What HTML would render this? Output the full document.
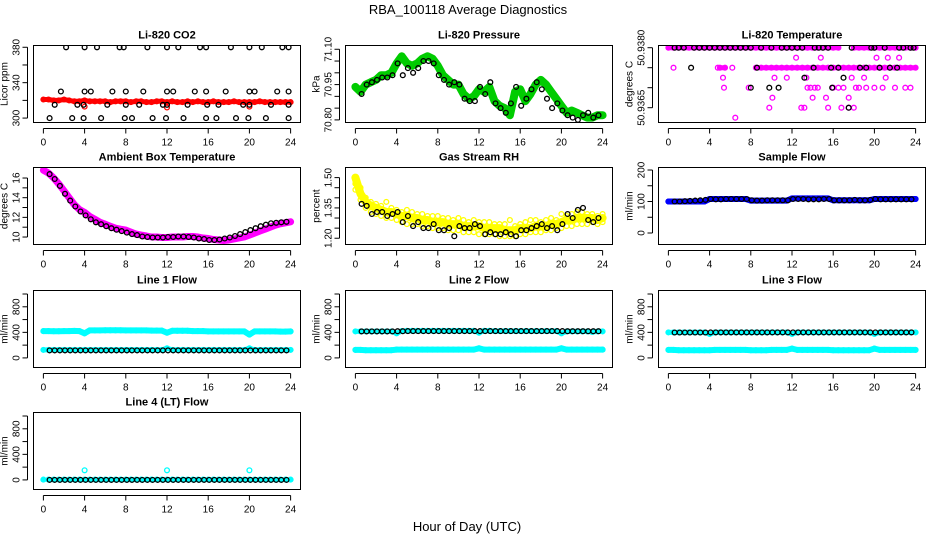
<!DOCTYPE html>
<html><head><meta charset="utf-8"><style>
html,body{margin:0;padding:0;background:#fff;}
svg text{font-family:"Liberation Sans",sans-serif;}
</style></head><body>
<svg id="chart" width="936" height="540" viewBox="0 0 936 540" xmlns="http://www.w3.org/2000/svg">
<rect width="936" height="540" fill="#fff"/>
<text x="468" y="14" text-anchor="middle" font-size="13">RBA_100118  Average Diagnostics</text>
<text x="467" y="531" text-anchor="middle" font-size="13">Hour of Day (UTC)</text>
</svg>
<script>
const hoursC=[0,0.5,1,1.5,2,2.5,3,3.5,4,4.5,5,5.5,6,6.5,7,7.5,8,8.5,9,9.5,10,10.5,11,11.5,12,12.5,13,13.5,14,14.5,15,15.5,16,16.5,17,17.5,18,18.5,19,19.5,20,20.5,21,21.5,22,22.5,23,23.5,24];
const hoursK=[0.6,1.1,1.6,2.1,2.6,3.1,3.6,4.1,4.6,5.1,5.6,6.1,6.6,7.1,7.6,8.1,8.6,9.1,9.6,10.1,10.6,11.1,11.6,12.1,12.6,13.1,13.6,14.1,14.6,15.1,15.6,16.1,16.6,17.1,17.6,18.1,18.6,19.1,19.6,20.1,20.6,21.1,21.6,22.1,22.6,23.1,23.6];
const xTicks=[0,4,8,12,16,20,24];

const co2Red=[321,321,320,320,321,320,319,319,320,319,319,319,319,318,319,319,319,318,319,319,318,318,319,319,318,319,318,318,319,318,319,318,318,319,318,318,318,319,318,318,318,318,319,318,318,318,318,318,318];
const co2KX=[2.2,4,5.2,7.4,7.8,10.1,12,13.1,15.2,15.8,18.2,20,21.2,23.2,23.8,1.7,4,4.6,6.7,8,9.7,12,12.6,14.7,15.8,17.7,20,20.5,22.7,23.8,1.1,3.3,3.9,6.2,8,9.3,11.6,12,14,15.9,17,19.4,20,22.1,23.8,0.6,2.8,3.9,5.6,7.9,8.6,10.6,11.9,13.6,15.8,16.8,18.7,19.9,21.6,23.8];
const co2KY=[380,380,380,380,380,380,380,380,380,380,380,380,380,380,380,330,330,330,330,330,330,330,330,330,330,330,330,330,330,330,315,315,315,315,315,315,315,315,315,315,315,315,315,315,315,300,300,300,300,300,300,300,300,300,300,300,300,300,300,300];
const co2OutX=[4,12,20];
const co2OutY=[313,312,313];

const pressGreen=[70.94,70.92,70.95,70.96,70.97,70.99,70.99,71.00,71.04,71.07,71.04,71.03,71.04,71.06,71.07,71.06,71.03,70.99,70.97,70.95,70.95,70.91,70.89,70.90,70.93,70.92,70.94,70.88,70.86,70.85,70.82,70.92,70.93,70.88,70.91,70.95,70.97,70.95,70.92,70.89,70.86,70.83,70.84,70.83,70.82,70.81,70.81,70.82,70.82];
const pressK=[70.91,70.95,70.96,70.97,70.98,70.98,70.99,71.04,70.99,71.02,71.00,71.02,71.05,71.05,71.04,70.99,70.97,70.95,70.96,70.95,70.89,70.88,70.88,70.94,70.91,70.96,70.87,70.85,70.83,70.87,70.94,70.86,70.89,70.93,70.96,70.93,70.89,70.85,70.87,70.84,70.82,70.81,70.80,70.82,70.83,70.81,70.82];

const tempTop=[50.938,50.938,50.938,50.938,50.938,50.938,50.938,50.938,50.938,50.938,50.938,50.938,50.938,50.938,50.938,50.938,50.938,50.938,50.938,50.938,50.938,50.938,50.938,50.938,50.938,50.938,50.938,50.938,50.938,50.938,50.938,50.938,50.938,50.938,null,null,50.938,50.938,50.938,50.938,50.938,50.938,50.938,50.938,50.938,50.938,50.938,50.938,50.938];
const tempMid=[null,50.9375,null,null,null,null,null,null,null,null,50.9375,50.9375,null,null,null,null,null,50.9375,50.9375,50.9375,50.9375,50.9375,50.9375,50.9375,50.9375,50.9375,50.9375,50.9375,50.9375,50.9375,50.9375,50.9375,50.9375,50.9375,50.9375,50.9375,50.9375,50.9375,50.9375,50.9375,50.9375,50.9375,50.9375,50.9375,50.9375,50.9375,50.9375,50.9375,50.9375];
const tempMX=[5.3,5.4,6.5,9.8,10.1,10.3,11.5,12.4,12.9,13.2,13.4,13.5,13.8,14,14.2,14.5,14.8,15.3,15.5,16,16.5,16.8,17,17.5,17.5,17.8,18,18.2,18.5,19,19.2,20,20.2,20.8,21.1,21.3,22,22.4,23,23.5,7.8,4.8,6.2];
const tempMY=[50.93725,50.937,50.93625,50.9365,50.93675,50.93725,50.93725,50.93775,50.9365,50.9365,50.93725,50.937,50.937,50.93675,50.937,50.937,50.93775,50.93675,50.9365,50.937,50.937,50.9365,50.937,50.93675,50.9365,50.93725,50.9365,50.937,50.937,50.93725,50.937,50.937,50.93775,50.937,50.93725,50.93775,50.937,50.93775,50.937,50.937,50.937,50.9375,50.9375];
const tempKX=[0.6,1,1.5,2.5,3,3.5,4,4.5,5,5.5,6,6.5,7,7.5,8,9,10,11,11.5,12,12.5,13,14.2,14.6,15,15.5,17.8,19.7,20,21,22.4,22.8,23.5,23.8,2.2,8.6,14.1,15.8,16.5,18.6,19.2,20.5,21.5,22.2,13.2,17,8,9.8,10.7,15.9,17.5];
const tempKY=[50.938,50.938,50.938,50.938,50.938,50.938,50.938,50.938,50.938,50.938,50.938,50.938,50.938,50.938,50.938,50.938,50.938,50.938,50.938,50.938,50.938,50.938,50.938,50.938,50.938,50.938,50.938,50.938,50.938,50.938,50.938,50.938,50.938,50.938,50.9375,50.9375,50.9375,50.9375,50.9375,50.9375,50.9375,50.9375,50.9375,50.9375,50.93725,50.93725,50.937,50.937,50.937,50.937,50.9365];

const ambMag=[16.8,16.5,16.0,15.4,14.7,14.0,13.3,12.8,12.5,12.1,11.8,11.5,11.3,11.1,10.9,10.8,10.7,10.5,10.3,10.2,10.1,10.0,10.0,9.95,9.95,10.0,10.0,10.0,10.05,10.05,10.0,9.9,9.85,9.75,9.7,9.65,9.7,9.8,9.9,10.0,10.2,10.4,10.6,10.8,11.0,11.2,11.35,11.45,11.55];
const ambK=[16.4,15.9,15.2,14.4,13.7,13.1,12.6,12.2,11.8,11.5,11.3,11.1,10.9,10.75,10.6,10.45,10.3,10.2,10.05,10.0,9.95,9.95,9.95,10.0,10.0,10.05,10.05,10.0,9.95,9.85,9.8,9.7,9.7,9.75,9.85,9.95,10.1,10.3,10.5,10.7,10.9,11.1,11.25,11.4,11.45,11.5,11.55];

const rhMid=[1.50,1.42,1.38,1.36,1.35,1.34,1.33,1.33,1.32,1.31,1.31,1.30,1.30,1.29,1.29,1.28,1.28,1.28,1.27,1.27,1.27,1.26,1.26,1.26,1.26,1.25,1.25,1.25,1.25,1.24,1.24,1.24,1.25,1.25,1.25,1.26,1.26,1.26,1.27,1.27,1.28,1.29,1.29,1.30,1.30,1.30,1.30,1.29,1.30];
const rhUp=[1.47,1.45,1.40,1.38,1.37,1.36,1.38,1.35,1.34,1.33,1.34,1.33,1.32,1.32,1.31,1.31,1.31,1.30,1.30,1.29,1.30,1.29,1.28,1.29,1.28,1.28,1.28,1.27,1.27,1.27,1.29,1.26,1.27,1.28,1.29,1.29,1.28,1.29,1.30,1.29,1.32,1.31,1.32,1.33,1.33,1.32,1.32,1.31,1.32];
const rhLow=[1.44,1.39,1.35,1.33,1.32,1.31,1.30,1.30,1.29,1.28,1.27,1.27,1.27,1.26,1.26,1.25,1.25,1.25,1.24,1.24,1.24,1.23,1.23,1.23,1.22,1.22,1.22,1.22,1.21,1.21,1.21,1.21,1.22,1.22,1.23,1.23,1.23,1.24,1.24,1.25,1.25,1.26,1.26,1.27,1.27,1.27,1.28,1.27,1.28];
const rhK=[1.37,1.36,1.32,1.33,1.33,1.31,1.32,1.33,1.28,1.31,1.26,1.28,1.25,1.25,1.27,1.24,1.24,1.25,1.21,1.26,1.25,1.25,1.27,1.26,1.22,1.23,1.22,1.22,1.23,1.22,1.21,1.24,1.24,1.25,1.26,1.27,1.25,1.26,1.24,1.27,1.32,1.30,1.34,1.35,1.29,1.28,1.30];

const sampleBlue=[100,100,100,100,100,100,100,100,108,108,108,108,108,108,108,108,103,103,103,103,103,103,103,103,110,110,110,110,110,110,110,110,104,104,104,104,104,104,104,104,108,108,108,108,108,108,108,108,108];
const sampleK=[100,100,101,102,103,104,105,108,107,107,108,108,108,108,108,104,103,103,104,104,104,104,104,108,108,108,107,107,107,108,108,104,104,104,104,105,104,104,105,108,107,107,107,107,107,107,107];

const line1CyanUp=[420,420,418,418,420,420,422,420,385,430,430,430,432,432,432,432,430,430,430,430,430,428,428,428,395,425,425,425,425,420,420,420,415,415,415,415,415,415,415,415,365,415,415,415,415,415,412,412,415];
const line1CyanLow=[125,125,125,125,125,125,125,125,125,125,125,125,125,125,125,125,125,125,125,125,125,125,125,125,150,125,125,125,125,125,125,125,125,125,125,125,125,125,125,125,150,125,125,125,125,125,125,125,125];
const line1K=[118,118,118,118,118,118,118,118,118,118,118,118,118,118,118,118,118,118,118,118,118,118,118,118,118,118,118,118,118,118,118,118,118,118,118,118,118,118,118,118,118,118,118,118,118,118,118];
const line2CyanUp=[415,415,415,415,415,415,415,415,385,420,425,425,425,425,425,425,425,425,425,425,425,425,425,425,395,425,425,420,420,420,420,420,420,420,420,420,420,420,420,420,385,415,415,415,415,415,405,415,415];
const line2CyanLow=[125,125,120,120,120,120,120,120,130,130,130,130,130,130,130,130,130,130,130,130,130,130,130,130,150,130,130,130,130,130,130,130,130,130,130,130,130,130,130,130,150,130,130,130,130,130,130,130,130];
const line2K=[415,415,415,415,415,415,415,418,418,420,420,420,420,420,420,420,420,420,420,420,420,420,420,420,420,420,420,420,420,420,420,420,420,420,420,420,420,420,420,420,418,418,418,418,418,418,418];
const line3CyanUp=[400,400,400,400,400,400,400,400,375,400,400,400,400,400,400,400,400,400,400,400,400,400,400,400,375,400,400,400,400,400,400,400,400,400,400,400,400,400,400,400,375,400,400,400,400,400,400,400,400];
const line3CyanLow=[125,125,120,120,120,120,120,120,120,125,125,125,125,125,125,125,120,120,120,120,125,125,125,125,145,125,125,125,125,125,125,125,120,120,120,120,120,120,120,120,145,125,125,125,125,125,125,125,125];
const line3K=[398,398,398,398,398,398,398,400,400,400,400,400,400,400,400,400,400,400,400,400,400,400,400,400,400,400,400,400,400,400,400,400,400,400,400,400,400,400,400,400,400,400,400,400,400,400,400];
const line4Cyan=[5,5,5,5,5,5,5,5,5,5,5,5,5,5,5,5,5,5,5,5,5,5,5,5,5,5,5,5,5,5,5,5,5,5,5,5,5,5,5,5,5,5,5,5,5,5,5,5,5];
const line4OutX=[4,12,20];
const line4OutY=[150,150,150];
const line4K=[0,0,0,0,0,0,0,0,0,0,0,0,0,0,0,0,0,0,0,0,0,0,0,0,0,0,0,0,0,0,0,0,0,0,0,0,0,0,0,0,0,0,0,0,0,0,0];

const co2Ticks=[300,320,340,360,380], co2Labels=["300","","340","","380"];
const pressTicks=[70.80,70.85,70.90,70.95,71.00,71.05,71.10], pressLabels=["70.80","","","70.95","","","71.10"];
const tempTicks=[50.9380,50.9375,50.9370,50.9365], tempLabels=["50.9380","","","50.9365"];
const ambTicks=[10,11,12,13,14,15,16], ambLabels=["10","","12","","14","","16"];
const rhTicks=[1.20,1.25,1.30,1.35,1.40,1.45,1.50], rhLabels=["1.20","","","1.35","","","1.50"];
const sampleTicks=[0,50,100,150,200], sampleLabels=["0","","100","","200"];
const flowTicks=[0,200,400,600,800,1000], flowLabels=["0","","400","","800",""];

const NS="http://www.w3.org/2000/svg";
const svg=document.getElementById('chart');
function mk(tag,attrs,parent){const e=document.createElementNS(NS,tag);for(const k in attrs)e.setAttribute(k,attrs[k]);(parent||svg).appendChild(e);return e;}

const colX=[33.5,345.5,658.5], rowY=[45.5,167.5,290.5,412.5], BW=267, BH=77;
const XLIM=[-0.96,24.96];

function panel(name,title,col,row,ylim,ticks,labels,ylab,series){
  const g=mk('g',{});
  
  
  const x0=colX[col], y0=rowY[row];
  const sx=v=>x0+(v-XLIM[0])/(XLIM[1]-XLIM[0])*BW;
  const sy=v=>y0+BH-(v-ylim[0])/(ylim[1]-ylim[0])*BH;
  const clipId='clip-'+name;
  const cp=mk('clipPath',{id:clipId},g);
  mk('rect',{x:x0,y:y0,width:BW,height:BH},cp);
  const plot=mk('g',{'clip-path':'url(#'+clipId+')'},g);
  
  
  series.forEach(s=>{
    const sg=mk('g',{},plot);
    
    
    if(s.band){
      let d='',pen=false;
      for(let i=0;i<s.x.length&&i<s.y.length;i++){
        if(s.y[i]===null){pen=false;continue;}
        d+=(pen?'L':'M')+sx(s.x[i]).toFixed(1)+' '+sy(s.y[i]).toFixed(1);pen=true;
      }
      const p=mk('path',{d:d,fill:'none',stroke:s.color,'stroke-width':s.band,'stroke-linejoin':'round','stroke-linecap':'round'},sg);
      
      
    }
    for(let i=0;i<s.x.length&&i<s.y.length;i++){
      if(s.y[i]===null)continue;
      const c=mk('circle',{cx:sx(s.x[i]).toFixed(1),cy:sy(s.y[i]).toFixed(1),r:s.r||2.4,fill:'none',stroke:s.color,'stroke-width':s.sw||1.3},sg);
      
      
    }
  });
  const box=mk('rect',{x:x0,y:y0,width:BW,height:BH,fill:'none',stroke:'#000','stroke-width':1},g);
  
  
  const t=mk('text',{x:x0+BW/2,y:y0-7,'text-anchor':'middle','font-size':'11','font-weight':'bold'},g);
  t.textContent=title;
  
  
  const xa=mk('g',{},g);
  
  
  const by=y0+BH;
  mk('line',{x1:sx(0),x2:sx(24),y1:by+6,y2:by+6,stroke:'#000'},xa);
  xTicks.forEach(v=>{
    mk('line',{x1:sx(v),x2:sx(v),y1:by+6,y2:by+11,stroke:'#000'},xa);
    const tl=mk('text',{x:sx(v),y:by+23,'text-anchor':'middle','font-size':'10'},xa);
    tl.textContent=String(v);
    
    
  });
  const ya=mk('g',{},g);
  
  
  const ax=x0-6;
  mk('line',{x1:ax,x2:ax,y1:sy(ticks[0]),y2:sy(ticks[ticks.length-1]),stroke:'#000'},ya);
  ticks.forEach((v,i)=>{
    mk('line',{x1:ax-5,x2:ax,y1:sy(v),y2:sy(v),stroke:'#000'},ya);
    if(labels[i]){
      const tl=mk('text',{x:ax-8,y:sy(v),'text-anchor':'middle','font-size':'10',transform:'rotate(-90 '+(ax-8)+' '+sy(v)+')'},ya);
      tl.textContent=labels[i];
      
      
    }
  });
  const yl=mk('text',{x:x0-26,y:y0+BH/2,'text-anchor':'middle','font-size':'10',transform:'rotate(-90 '+(x0-26)+' '+(y0+BH/2)+')'},g);
  yl.textContent=ylab;
  
  
}
const K='#000', CY='#00ffff';
panel('co2','Li-820 CO2',0,0,[295,382],co2Ticks,co2Labels,'Licor ppm',[
  {name:'red-series',x:hoursC,y:co2Red,color:'#ff0000',band:5},
  {name:'red-outliers',x:co2OutX,y:co2OutY,color:'#ff0000'},
  {name:'black-series',x:co2KX,y:co2KY,color:K}]);
panel('pressure','Li-820 Pressure',1,0,[70.789,71.116],pressTicks,pressLabels,'kPa',[
  {name:'green-series',x:hoursC,y:pressGreen,color:'#00cc00',band:8},
  {name:'green-points',x:hoursC,y:pressGreen,color:'#00cc00'},
  {name:'black-series',x:hoursK,y:pressK,color:K}]);
panel('temperature','Li-820 Temperature',2,0,[50.93613,50.938055],tempTicks,tempLabels,'degrees C',[
  {name:'magenta-top',x:hoursC,y:tempTop,color:'#ff00ff',band:5},
  {name:'magenta-mid',x:hoursC,y:tempMid,color:'#ff00ff',band:5},
  {name:'magenta-scatter',x:tempMX,y:tempMY,color:'#ff00ff'},
  {name:'black-series',x:tempKX,y:tempKY,color:K}]);
panel('ambient','Ambient Box Temperature',0,1,[9.24,17.07],ambTicks,ambLabels,'degrees C',[
  {name:'magenta-series',x:hoursC,y:ambMag,color:'#ff00ff',band:7},
  {name:'black-series',x:hoursK,y:ambK,color:K}]);
panel('rh','Gas Stream RH',1,1,[1.169,1.55],rhTicks,rhLabels,'percent',[
  {name:'yellow-mid',x:hoursC,y:rhMid,color:'#ffff00',band:8},
  {name:'yellow-upper',x:hoursC,y:rhUp,color:'#ffff00'},
  {name:'yellow-lower',x:hoursC,y:rhLow,color:'#ffff00'},
  {name:'black-series',x:hoursK,y:rhK,color:K}]);
panel('sample-flow','Sample Flow',2,1,[-36.5,208],sampleTicks,sampleLabels,'ml/min',[
  {name:'blue-series',x:hoursC,y:sampleBlue,color:'#0000ff',band:6},
  {name:'black-series',x:hoursK,y:sampleK,color:K}]);
const FL=[-150,1055];
panel('line1','Line 1 Flow',0,2,FL,flowTicks,flowLabels,'ml/min',[
  {name:'cyan-upper',x:hoursC,y:line1CyanUp,color:CY,band:6},
  {name:'cyan-lower',x:hoursC,y:line1CyanLow,color:CY,band:5},
  {name:'black-series',x:hoursK,y:line1K,color:K}]);
panel('line2','Line 2 Flow',1,2,FL,flowTicks,flowLabels,'ml/min',[
  {name:'cyan-upper',x:hoursC,y:line2CyanUp,color:CY,band:5},
  {name:'cyan-lower',x:hoursC,y:line2CyanLow,color:CY,band:6},
  {name:'black-series',x:hoursK,y:line2K,color:K}]);
panel('line3','Line 3 Flow',2,2,FL,flowTicks,flowLabels,'ml/min',[
  {name:'cyan-upper',x:hoursC,y:line3CyanUp,color:CY,band:5},
  {name:'cyan-lower',x:hoursC,y:line3CyanLow,color:CY,band:6},
  {name:'black-series',x:hoursK,y:line3K,color:K}]);
panel('line4','Line 4 (LT) Flow',0,3,FL,flowTicks,flowLabels,'ml/min',[
  {name:'cyan-series',x:hoursC,y:line4Cyan,color:CY,band:4},
  {name:'cyan-outliers',x:line4OutX,y:line4OutY,color:CY},
  {name:'black-series',x:hoursK,y:line4K,color:K}]);
</script>
</body></html>
